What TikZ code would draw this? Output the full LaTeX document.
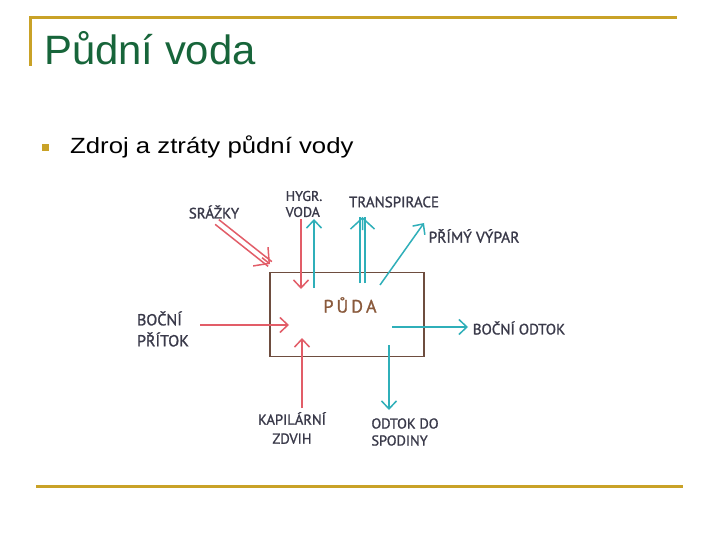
\documentclass[tikz,border=0pt]{standalone}
\usepackage{fontspec}
\setmainfont{Liberation Sans}
\newfontfamily\handfont{PT Sans}[FakeBold=1.2]
\usetikzlibrary{arrows.meta,calc}
\definecolor{gold}{HTML}{C9A227}
\definecolor{titlegreen}{HTML}{17653A}
\definecolor{redarr}{HTML}{E25D68}
\definecolor{tealarr}{HTML}{2FAFB9}
\definecolor{handgray}{HTML}{3A3A4A}
\definecolor{boxbrown}{HTML}{6E4D3F}
\definecolor{pudabrown}{HTML}{8A5A3C}
\tikzset{
  rule/.style={draw=gold,line width=3pt},
  lbl/.style={text=handgray,inner sep=0pt,font=\handfont\fontsize{15}{16}\selectfont},
  redline/.style={draw=redarr,line width=1.5pt},
  tealline/.style={draw=tealarr,line width=1.5pt},
  vhead/.style={-{Straight Barb[length=8pt,width=15pt,line width=1.5pt]}},
  vheadwide/.style={-{Straight Barb[length=11pt,width=24pt,line width=1.5pt]}},
}
\begin{document}
\begin{tikzpicture}[x=1pt,y=-1pt]
\useasboundingbox[fill=white] (0,0) rectangle (720,540);
% frame rules
\coordinate (tl) at (30,18);
\coordinate (tr) at (677,18);
\coordinate (lb) at (30,66);
\draw[rule] (tr) -- (tl) -- (lb);
\coordinate (bl) at (36,486);
\coordinate (br) at (683,486);
\draw[rule] (bl) -- (br);
% title
\node[anchor=base west,inner sep=0pt,text=titlegreen,font=\fontsize{41}{44}\selectfont] (title) at (44,65) {\scalebox{1.02}[1]{Půdní voda}};
% bullet
\node[fill=gold,minimum size=7pt,inner sep=0pt] (bul) at (45.5,148) {};
\node[anchor=base west,inner sep=0pt,font=\fontsize{22}{24}\selectfont] (btext) at (70,154) {\scalebox{1.17}[1]{Zdroj a ztráty půdní vody}};
% soil box
\node[draw=boxbrown,line width=1.2pt,minimum width=154pt,minimum height=84pt,inner sep=0pt] (box) at (347,314.5) {};
\node[text=pudabrown,inner sep=0pt,font=\handfont\fontsize{18}{20}\selectfont] (puda) at (350,305) {P\,Ů\,D\,A};
% labels
\node[lbl] (srazky) at (214,212) {SRÁŽKY};
\node[lbl,align=left,font=\handfont\fontsize{14}{16}\selectfont] (hygr) at (304,204) {HYGR.\\VODA};
\node[lbl] (transp) at (394,202) {TRANSPIRACE};
\node[lbl,font=\handfont\fontsize{15.5}{16}\selectfont] (vypar) at (474,236) {PŘÍMÝ VÝPAR};
\node[lbl,align=left,font=\handfont\fontsize{16}{21}\selectfont] (pritok) at (163,329) {BOČNÍ\\PŘÍTOK};
\node[lbl] (odtok) at (519,328) {BOČNÍ ODTOK};
\node[lbl,align=center,font=\handfont\fontsize{14.5}{19}\selectfont] (kapil) at (292,428) {KAPILÁRNÍ\\ZDVIH};
\node[lbl,align=left,font=\handfont\fontsize{14.3}{17}\selectfont] (spod) at (405,432) {ODTOK DO\\SPODINY};
% arrow end points
\coordinate (s1) at (217,222); \coordinate (s2) at (270,264);
\coordinate (h1) at (301,219); \coordinate (h2) at (301,289);
\coordinate (h3) at (314,288); \coordinate (h4) at (314,219);
\coordinate (t1) at (362.5,283); \coordinate (t2) at (362.5,217);
\coordinate (v1) at (380,285); \coordinate (v2) at (424,223);
\coordinate (b1) at (200,325); \coordinate (b2) at (289,325);
\coordinate (k1) at (302,408); \coordinate (k2) at (302,338);
\coordinate (o1) at (389,345); \coordinate (o2) at (389,410);
\coordinate (r1) at (392,327); \coordinate (r2) at (468,327);
% precipitation (double)
\draw[redline] ($(s1)!3pt!90:(s2)$) -- ($(s2)!3pt!-90:(s1)$);
\draw[redline] ($(s1)!3pt!-90:(s2)$) -- ($(s2)!3pt!90:(s1)$);
\draw[redline,vheadwide] ($(s1)!0.85!(s2)$) -- (s2);
% hygroscopic water
\draw[redline,vhead] (h1) -- (h2);
\draw[tealline,vhead] (h3) -- (h4);
% transpiration (double)
\draw[tealline] ($(t1)+(-2.5,0)$) -- ($(t2)+(-2.5,0)$);
\draw[tealline] ($(t1)+(2.5,0)$) -- ($(t2)+(2.5,0)$);
\draw[tealline,vheadwide] ($(t1)!0.8!(t2)$) -- (t2);
% direct evaporation
\draw[tealline,vhead] (v1) -- (v2);
% lateral inflow
\draw[redline,vhead] (b1) -- (b2);
% capillary rise
\draw[redline,vhead] (k1) -- (k2);
% drainage to subsoil
\draw[tealline,vhead] (o1) -- (o2);
% lateral outflow
\draw[tealline,vhead] (r1) -- (r2);
\end{tikzpicture}
\end{document}
